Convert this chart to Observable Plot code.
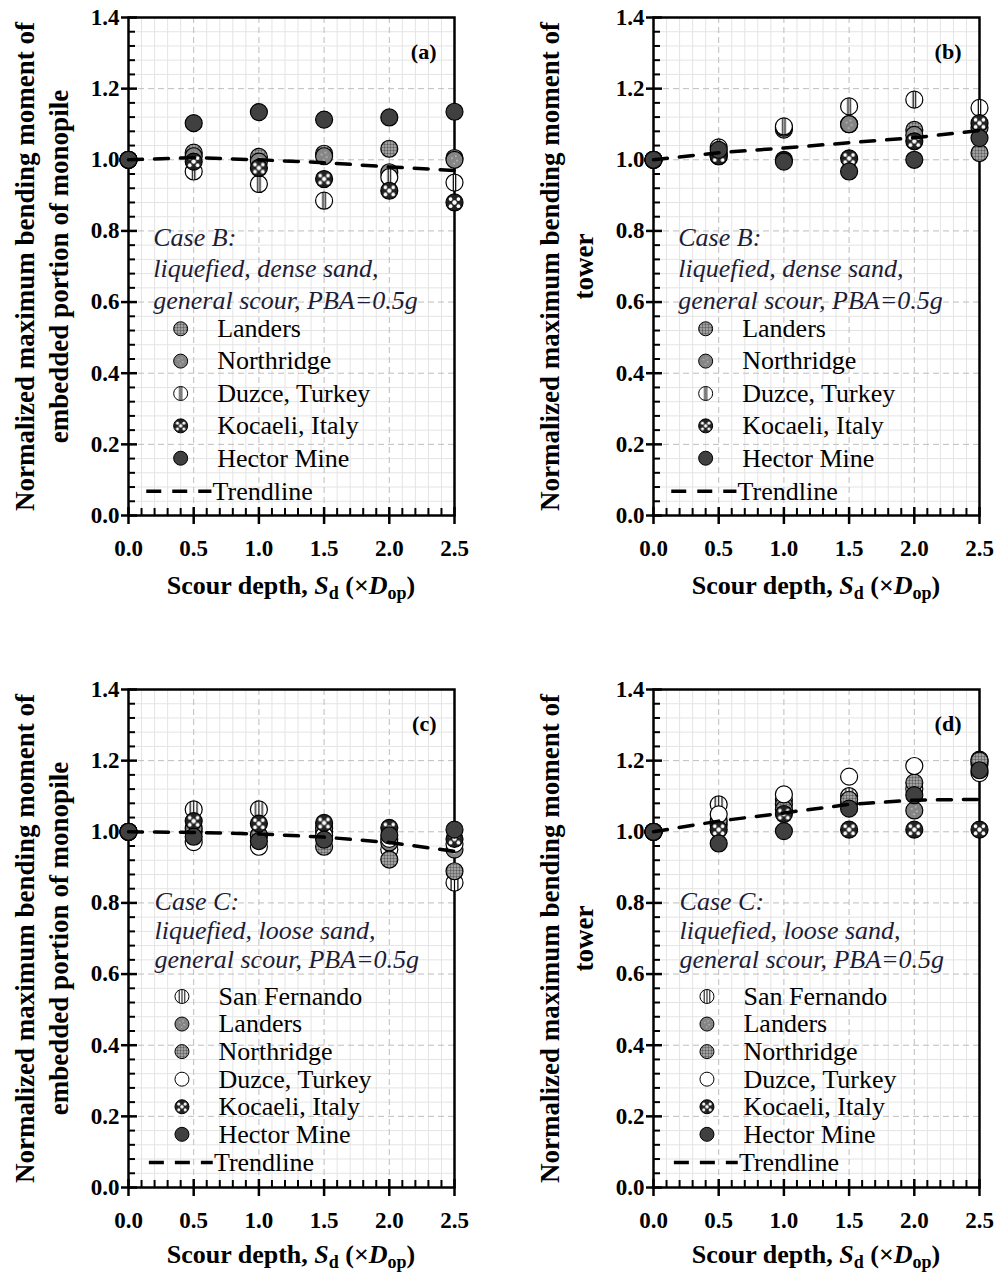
<!DOCTYPE html>
<html><head><meta charset="utf-8">
<script src="https://cdn.jsdelivr.net/npm/d3@7"></script>
<script src="https://cdn.jsdelivr.net/npm/@observablehq/plot@0.6"></script>
<style>
body{margin:0;background:#fff;width:995px;height:1274px;position:relative;overflow:hidden;font-family:"Liberation Serif","Times New Roman",serif;}
.panel{position:absolute;}
</style></head><body>
<div id="pa" class="panel" style="left:0;top:0"></div>
<div id="pb" class="panel" style="left:525px;top:0"></div>
<div id="pc" class="panel" style="left:0;top:672px"></div>
<div id="pd" class="panel" style="left:525px;top:672px"></div>
<script>
// ---------- data ----------
const scourDepth = [0, 0.5, 1.0, 1.5, 2.0, 2.5];
const xTickValues = [0, 0.5, 1.0, 1.5, 2.0, 2.5];
const yTickValues = [0, 0.2, 0.4, 0.6, 0.8, 1.0, 1.2, 1.4];

const seriesB = ["Landers", "Northridge", "Duzce, Turkey", "Kocaeli, Italy", "Hector Mine"];
const seriesC = ["San Fernando", "Landers", "Northridge", "Duzce, Turkey", "Kocaeli, Italy", "Hector Mine"];

// (a) Case B, embedded portion of monopile
const aLanders    = [1.0, 1.020, 1.008, 1.017, 1.031, 1.005];
const aNorthridge = [1.0, 1.010, 0.995, 1.010, 0.965, 1.000];
const aDuzce      = [1.0, 0.967, 0.932, 0.885, 0.951, 0.936];
const aKocaeli    = [1.0, 0.995, 0.977, 0.946, 0.913, 0.880];
const aHector     = [1.0, 1.103, 1.134, 1.113, 1.119, 1.135];
const aTrend      = [1.0, 1.006, 1.000, 0.992, 0.980, 0.970];

// (b) Case B, tower
const bLanders    = [1.0, 1.020, 1.085, 1.100, 1.084, 1.019];
const bNorthridge = [1.0, 1.010, 1.090, 1.100, 1.070, 1.090];
const bDuzce      = [1.0, 1.035, 1.094, 1.150, 1.169, 1.146];
const bKocaeli    = [1.0, 1.010, 1.000, 1.004, 1.052, 1.103];
const bHector     = [1.0, 1.028, 0.995, 0.967, 1.000, 1.061];
const bTrend      = [1.0, 1.020, 1.033, 1.048, 1.062, 1.082];

// (c) Case C, embedded portion of monopile
const cSanFernando = [1.0, 1.063, 1.063, 1.000, 0.950, 0.857];
const cLanders     = [1.0, 1.000, 0.990, 1.010, 0.970, 0.950];
const cNorthridge  = [1.0, 1.010, 0.990, 0.958, 0.922, 0.889];
const cDuzce       = [1.0, 0.971, 0.958, 0.990, 0.980, 0.966];
const cKocaeli     = [1.0, 1.030, 1.023, 1.025, 1.011, 0.980];
const cHector      = [1.0, 0.986, 0.974, 0.978, 0.990, 1.006];
const cTrend       = [1.0, 0.998, 0.994, 0.985, 0.970, 0.945];

// (d) Case C, tower
const dSanFernando = [1.0, 1.077, 1.090, 1.100, 1.120, 1.203];
const dLanders     = [1.0, 1.020, 1.077, 1.080, 1.060, 1.190];
const dNorthridge  = [1.0, 1.030, 1.063, 1.090, 1.138, 1.200];
const dDuzce       = [1.0, 1.049, 1.105, 1.155, 1.185, 1.165];
const dKocaeli     = [1.0, 1.006, 1.050, 1.006, 1.006, 1.006];
const dHector      = [1.0, 0.967, 1.002, 1.065, 1.103, 1.173];
const dTrend       = [1.0, 1.030, 1.053, 1.077, 1.089, 1.091];

const caseBLines = ["Case B:", "liquefied, dense sand,", "general scour, PBA=0.5g"];
const caseCLines = ["Case C:", "liquefied, loose sand,", "general scour, PBA=0.5g"];
const yTitleLine1 = "Normalized maximum bending moment of";
const yTitleMonopile = "embedded portion of monopile";
const yTitleTower = "tower";

// ---------- styles ----------
const SERIF = "'Liberation Serif','Times New Roman',serif";
const fillsB = {"Landers": "fine", "Northridge": "gray", "Duzce, Turkey": "vert2", "Kocaeli, Italy": "koc", "Hector Mine": "dark"};
const fillsC = {"San Fernando": "vert3", "Landers": "gray", "Northridge": "fine", "Duzce, Turkey": "open", "Kocaeli, Italy": "koc", "Hector Mine": "dark"};

const PX = 2.5 / 326, PY = 1.4 / 498;
const isMult = (v, s) => Math.abs(v / s - Math.round(v / s)) < 1e-6;
const xMinor = d3.range(0, 2.5001, 0.1).filter(v => !isMult(v, 0.5));
const yMinor = d3.range(0, 1.4001, 0.04).filter(v => !isMult(v, 0.2));

function defsMark(p) {
  return () => {
    const g = d3.create("svg:g");
    const defs = g.append("defs");
    const fine = defs.append("pattern").attr("id", p + "fine").attr("patternUnits", "userSpaceOnUse").attr("width", 3).attr("height", 3);
    fine.append("rect").attr("width", 3).attr("height", 3).attr("fill", "#555");
    fine.append("circle").attr("cx", 1.5).attr("cy", 1.5).attr("r", 0.95).attr("fill", "#f4f4f4");
    const gray = defs.append("pattern").attr("id", p + "gray").attr("patternContentUnits", "objectBoundingBox").attr("width", 1).attr("height", 1);
    gray.append("rect").attr("width", 1).attr("height", 1).attr("fill", "#858585");
    [[0.35, 0.4], [0.65, 0.55], [0.48, 0.72], [0.58, 0.28]].forEach(([cx, cy]) => gray.append("circle").attr("cx", cx).attr("cy", cy).attr("r", 0.05).attr("fill", "#c8c8c8"));
    const koc = defs.append("pattern").attr("id", p + "koc").attr("patternContentUnits", "objectBoundingBox").attr("width", 1).attr("height", 1);
    koc.append("rect").attr("width", 1).attr("height", 1).attr("fill", "#222");
    [[0.5, 0.5, 0.13], [0.27, 0.3, 0.11], [0.73, 0.3, 0.11], [0.27, 0.72, 0.11], [0.73, 0.72, 0.11]].forEach(([cx, cy, r]) => koc.append("circle").attr("cx", cx).attr("cy", cy).attr("r", r).attr("fill", "#fff"));
    const v2 = defs.append("pattern").attr("id", p + "vert2").attr("patternContentUnits", "objectBoundingBox").attr("width", 1).attr("height", 1);
    v2.append("rect").attr("width", 1).attr("height", 1).attr("fill", "#fff");
    [0.43, 0.57].forEach(x => v2.append("rect").attr("x", x - 0.035).attr("y", 0).attr("width", 0.07).attr("height", 1).attr("fill", "#000"));
    const v3 = defs.append("pattern").attr("id", p + "vert3").attr("patternContentUnits", "objectBoundingBox").attr("width", 1).attr("height", 1);
    v3.append("rect").attr("width", 1).attr("height", 1).attr("fill", "#fff");
    [0.3, 0.5, 0.7].forEach(x => v3.append("rect").attr("x", x - 0.035).attr("y", 0).attr("width", 0.07).attr("height", 1).attr("fill", "#000"));
    return g.node();
  };
}
function fillOf(p, style) {
  if (style === "dark") return "#404040";
  if (style === "open") return "#ffffff";
  return `url(#${p}${style})`;
}
function xTitleMark(offset) {
  return (index, scales) => {
    const cx = (scales.x(0) + scales.x(2.5)) / 2;
    const t = d3.create("svg:text").attr("x", cx).attr("y", scales.y(0) + offset)
      .attr("text-anchor", "middle").attr("font-family", SERIF).attr("font-weight", "bold").attr("font-size", 26).attr("fill", "#000");
    t.append("tspan").text("Scour depth, ");
    t.append("tspan").attr("font-style", "italic").text("S");
    t.append("tspan").attr("font-size", 18).attr("dy", 5).text("d");
    t.append("tspan").attr("dy", -5).text(" (×");
    t.append("tspan").attr("font-style", "italic").text("D");
    t.append("tspan").attr("font-size", 18).attr("dy", 5).text("op");
    t.append("tspan").attr("dy", -5).text(")");
    return t.node();
  };
}

function buildPanel(cfg) {
  const {id, label, series, values, fills, trend, yTitle2, caseLines, lg} = cfg;
  const p = id + "-";
  const isTopRow = cfg.row === 0;
  const marks = [defsMark(p)];
  // grid
  marks.push(Plot.ruleX(xMinor, {x: d => d, stroke: "#e4e4e4", strokeWidth: 1}));
  marks.push(Plot.ruleY(yMinor, {y: d => d, stroke: "#e4e4e4", strokeWidth: 1}));
  marks.push(Plot.ruleX(xTickValues.slice(1, -1), {x: d => d, stroke: "#bdbdbd", strokeWidth: 1, strokeDasharray: "6,4"}));
  marks.push(Plot.ruleY(yTickValues.slice(1, -1), {y: d => d, stroke: "#bdbdbd", strokeWidth: 1, strokeDasharray: "6,4"}));
  // ticks
  marks.push(Plot.ruleY(yMinor, {y: d => d, x1: 0, x2: 7 * PX, stroke: "#000", strokeWidth: 2}));
  marks.push(Plot.ruleY(yTickValues, {y: d => d, x1: -7 * PX, x2: 9 * PX, stroke: "#000", strokeWidth: 2.5}));
  marks.push(Plot.ruleX(xMinor, {x: d => d, y1: 0, y2: 7 * PY, stroke: "#000", strokeWidth: 2}));
  marks.push(Plot.ruleX(xTickValues, {x: d => d, y1: -9 * PY, y2: 8 * PY, stroke: "#000", strokeWidth: 2.5}));
  marks.push(Plot.frame({stroke: "#000", strokeWidth: 2.5}));
  // tick labels
  marks.push(Plot.text(yTickValues, {x: 0, y: d => d, text: d => d.toFixed(1), textAnchor: "end", dx: -9, fontSize: 23, fontWeight: "bold", fontFamily: SERIF, fill: "#000"}));
  marks.push(Plot.text(xTickValues, {x: d => d, y: 0, text: d => d.toFixed(1), dy: 33, fontSize: 23, fontWeight: "bold", fontFamily: SERIF, fill: "#000"}));
  // axis titles
  marks.push(Plot.text([yTitleLine1], {frameAnchor: "left", dx: -103, rotate: -90, textAnchor: "middle", lineAnchor: "middle", fontSize: 27, fontWeight: "bold", fontFamily: SERIF, fill: "#000"}));
  marks.push(Plot.text([yTitle2], {frameAnchor: "left", dx: -69, rotate: -90, textAnchor: "middle", lineAnchor: "middle", fontSize: 27, fontWeight: "bold", fontFamily: SERIF, fill: "#000"}));
  marks.push(xTitleMark(isTopRow ? 79 : 76));
  // panel label
  marks.push(Plot.text([label], {frameAnchor: "top-right", dx: -18, dy: 26, textAnchor: "end", fontSize: 22, fontWeight: "bold", fontFamily: SERIF, fill: "#000"}));
  // case text
  marks.push(Plot.text(caseLines, {x: lg.caseX, y: (d, i) => lg.caseY0 - i * lg.caseStep, text: d => d, textAnchor: "start", fontSize: 26, fontStyle: "italic", fontFamily: SERIF, fill: "#1d1d38"}));
  // data points
  series.forEach((s, i) => {
    marks.push(Plot.dot(scourDepth, {x: d => d, y: (d, j) => values[i][j], r: 8.5, fill: fillOf(p, fills[s]), stroke: "#000", strokeWidth: 1.2}));
  });
  // trendline
  marks.push(Plot.line(scourDepth, {x: d => d, y: (d, j) => trend[j], stroke: "#000", strokeWidth: 3.5, strokeDasharray: "14,12"}));
  // legend
  series.forEach((s, i) => {
    marks.push(Plot.dot([s], {x: lg.mx, y: lg.y0 - i * lg.step, r: 7, fill: fillOf(p, fills[s]), stroke: "#000", strokeWidth: 1}));
  });
  marks.push(Plot.text(series, {x: lg.tx, y: (d, i) => lg.y0 - i * lg.step, text: d => d, textAnchor: "start", fontSize: 26, fontFamily: SERIF, fill: "#000"}));
  marks.push(Plot.ruleY([lg.trendY], {y: d => d, x1: lg.t1, x2: lg.t2, stroke: "#000", strokeWidth: 3.5, strokeDasharray: "15,11"}));
  marks.push(Plot.text(["Trendline"], {x: lg.t2 + 0.005, y: lg.trendY, textAnchor: "start", fontSize: 26, fontFamily: SERIF, fill: "#000"}));

  const svg = Plot.plot({
    width: cfg.width,
    height: isTopRow ? 620 : 602,
    marginLeft: 128,
    marginRight: cfg.width - 128 - 326,
    marginTop: 17,
    marginBottom: isTopRow ? 620 - 17 - 498 : 602 - 17 - 498,
    x: {domain: [0, 2.5], axis: null},
    y: {domain: [0, 1.4], axis: null},
    style: {fontFamily: SERIF, background: "#fff", overflow: "visible"},
    marks
  });
  document.getElementById(id).appendChild(svg);
}

const lgB = {caseX: 0.19, caseY0: 0.780, caseStep: 0.0875, mx: 0.40, tx: 0.68, y0: 0.525, step: 0.091, trendY: 0.068, t1: 0.14, t2: 0.64};
const lgC = {caseX: 0.20, caseY0: 0.804, caseStep: 0.082, mx: 0.41, tx: 0.69, y0: 0.537, step: 0.0775, trendY: 0.070, t1: 0.16, t2: 0.65};

buildPanel({id: "pa", row: 0, width: 497, label: "(a)", series: seriesB, fills: fillsB,
  values: [aLanders, aNorthridge, aDuzce, aKocaeli, aHector], trend: aTrend, yTitle2: yTitleMonopile, caseLines: caseBLines, lg: lgB});
buildPanel({id: "pb", row: 0, width: 470, label: "(b)", series: seriesB, fills: fillsB,
  values: [bLanders, bNorthridge, bDuzce, bKocaeli, bHector], trend: bTrend, yTitle2: yTitleTower, caseLines: caseBLines, lg: lgB});
buildPanel({id: "pc", row: 1, width: 497, label: "(c)", series: seriesC, fills: fillsC,
  values: [cSanFernando, cLanders, cNorthridge, cDuzce, cKocaeli, cHector], trend: cTrend, yTitle2: yTitleMonopile, caseLines: caseCLines, lg: lgC});
buildPanel({id: "pd", row: 1, width: 470, label: "(d)", series: seriesC, fills: fillsC,
  values: [dSanFernando, dLanders, dNorthridge, dDuzce, dKocaeli, dHector], trend: dTrend, yTitle2: yTitleTower, caseLines: caseCLines, lg: lgC});
</script>
</body></html>
